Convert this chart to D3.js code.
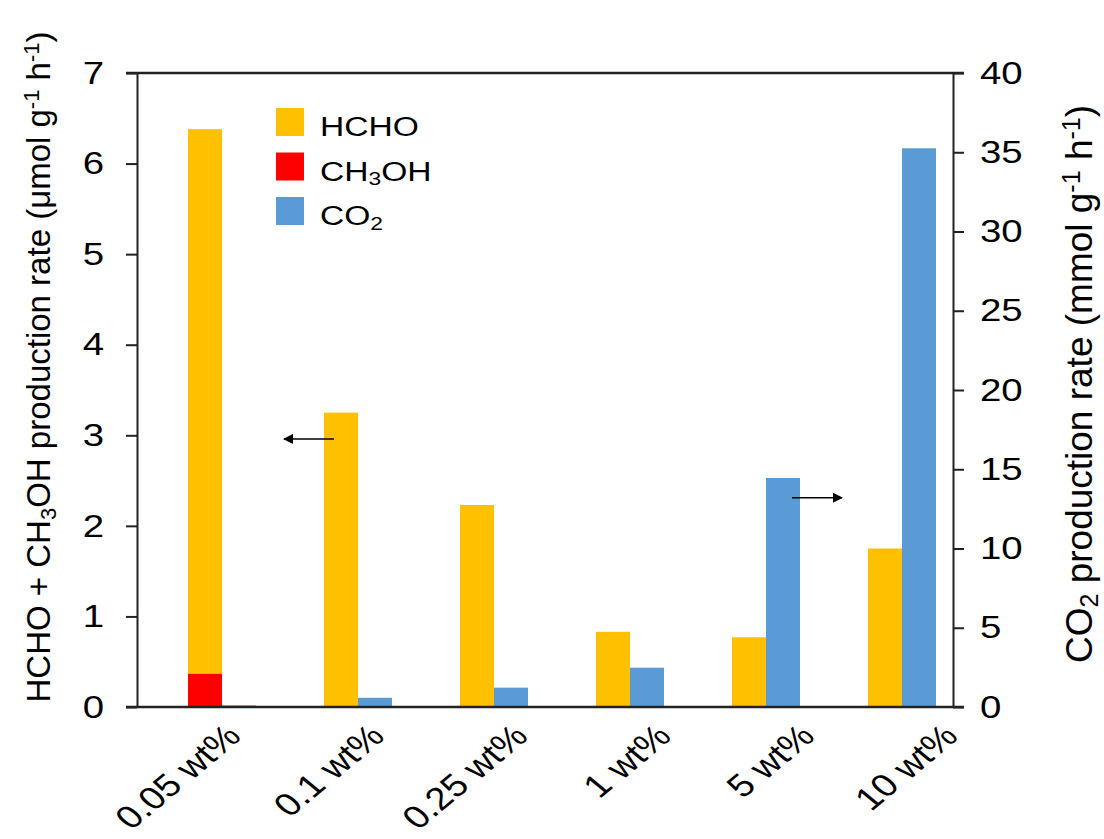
<!DOCTYPE html>
<html>
<head>
<meta charset="utf-8">
<script src="https://cdn.jsdelivr.net/npm/d3@7"></script>
<style>
  body { margin: 0; background: #fff; }
  text { font-family: "Liberation Sans", Arial, sans-serif; fill: #000; }
</style>
</head>
<body>
<svg id="chart"></svg>
<script>
const categories = ['0.05 wt%', '0.1 wt%', '0.25 wt%', '1 wt%', '5 wt%', '10 wt%'];
const hcho = [6.01, 3.25, 2.23, 0.83, 0.77, 1.75];
const ch3oh = [0.37, 0, 0, 0, 0, 0];
const co2 = [0.1, 0.58, 1.22, 2.48, 14.45, 35.25];
const leftTicks = [0, 1, 2, 3, 4, 5, 6, 7];
const rightTicks = [0, 5, 10, 15, 20, 25, 30, 35, 40];
const seriesNames = ['HCHO', 'CH3OH', 'CO2'];
const colors = { hcho: '#FFC000', ch3oh: '#FF0000', co2: '#5B9BD5' };

const width = 1104, height = 839;
const margin = { top: 73, right: 151, bottom: 132, left: 137 };
const tickLen = 11;
const axisColor = '#222';
const stretch = 1.2;   // the source figure is a bit wider than tall

const svg = d3.select('#chart')
    .attr('width', width)
    .attr('height', height);

const x0 = d3.scaleBand()
    .domain(categories)
    .range([margin.left, width - margin.right])
    .padding(0);

// one empty slot, then the stacked column, then CO2
const xs = d3.scaleBand()
    .domain(['blank', 'primary', 'co2'])
    .range([0, x0.bandwidth()])
    .paddingInner(0)
    .paddingOuter(0.5);

const yL = d3.scaleLinear()
    .domain([0, 7])
    .range([height - margin.bottom, margin.top]);

const yR = d3.scaleLinear()
    .domain([0, 40])
    .range([height - margin.bottom, margin.top]);

const rows = categories.map((c, i) => ({ cat: c, hcho: hcho[i], ch3oh: ch3oh[i], co2: co2[i] }));
const stacked = d3.stack().keys(['ch3oh', 'hcho'])(rows);

// stacked columns (left axis)
svg.append('g').selectAll('g')
    .data(stacked)
    .join('g')
    .attr('fill', d => colors[d.key])
    .selectAll('rect')
    .data(d => d.filter(p => p[1] - p[0] > 0))
    .join('rect')
    .attr('x', d => x0(d.data.cat) + xs('primary'))
    .attr('width', xs.bandwidth())
    .attr('y', d => yL(d[1]))
    .attr('height', d => yL(d[0]) - yL(d[1]));

// CO2 columns (right axis)
svg.append('g').selectAll('rect')
    .data(rows)
    .join('rect')
    .attr('fill', colors.co2)
    .attr('x', d => x0(d.cat) + xs('co2'))
    .attr('width', xs.bandwidth())
    .attr('y', d => yR(d.co2))
    .attr('height', d => yR(0) - yR(d.co2));

// axes
const x1 = margin.left, x2 = width - margin.right;
const leftAxis = d3.axisLeft(yL).tickValues(leftTicks).tickFormat(d3.format('d'))
    .tickSize(tickLen).tickSizeOuter(0).tickPadding(22);
const rightAxis = d3.axisRight(yR).tickValues(rightTicks).tickFormat(d3.format('d'))
    .tickSize(tickLen).tickSizeOuter(0).tickPadding(16);

const gl = svg.append('g').attr('transform', `translate(${x1},0)`).call(leftAxis);
const gr = svg.append('g').attr('transform', `translate(${x2},0)`).call(rightAxis);
[gl, gr].forEach(g => {
    g.selectAll('path, line').attr('stroke', axisColor).attr('stroke-width', 2);
    g.selectAll('text')
        .style('font-size', '32px')
        .attr('font-family', '"Liberation Sans", Arial, sans-serif')
        .attr('fill', '#000')
        .each(function () {
            const t = d3.select(this);
            const x = +t.attr('x');
            t.attr('x', 0).attr('transform', `translate(${x},0) scale(${stretch},1)`);
        });
});

// top and bottom frame lines
svg.append('line')
    .attr('x1', x1 - tickLen).attr('x2', x2 + tickLen)
    .attr('y1', yL(7)).attr('y2', yL(7))
    .attr('stroke', axisColor).attr('stroke-width', 2.5);
svg.append('line')
    .attr('x1', x1 - tickLen).attr('x2', x2 + tickLen)
    .attr('y1', yL(0)).attr('y2', yL(0))
    .attr('stroke', axisColor).attr('stroke-width', 2.5);

// category labels, their ends spread a little wider than the bars
const xLabel = d3.scalePoint()
    .domain(categories)
    .range([x0(categories[0]) + x0.bandwidth() / 2 + 38,
            x0(categories[categories.length - 1]) + x0.bandwidth() / 2 + 75]);
svg.append('g').selectAll('text')
    .data(categories)
    .join('text')
    .attr('text-anchor', 'end')
    .style('font-size', '32px')
    .attr('transform', d => `translate(${xLabel(d)},${yL(0) + 31}) scale(${stretch},1) rotate(-45)`)
    .text(d => d);

// axis titles
const leftTitle = svg.append('text')
    .attr('transform', `translate(50,367) rotate(-90)`)
    .attr('text-anchor', 'middle')
    .style('font-size', '33px');
leftTitle.append('tspan').text('HCHO + CH');
leftTitle.append('tspan').text('3').attr('baseline-shift', '-25%').style('font-size', '22px');
leftTitle.append('tspan').text('OH production rate (μmol g');
leftTitle.append('tspan').text('-1').attr('baseline-shift', '50%').style('font-size', '22px');
leftTitle.append('tspan').text(' h');
leftTitle.append('tspan').text('-1').attr('baseline-shift', '50%').style('font-size', '22px');
leftTitle.append('tspan').text(')');

const rightTitle = svg.append('text')
    .attr('transform', `translate(1092,384) rotate(-90)`)
    .attr('text-anchor', 'middle')
    .style('font-size', '37px');
rightTitle.append('tspan').text('CO');
rightTitle.append('tspan').text('2').attr('baseline-shift', '-25%').style('font-size', '25px');
rightTitle.append('tspan').text(' production rate (mmol g');
rightTitle.append('tspan').text('-1').attr('baseline-shift', '50%').style('font-size', '25px');
rightTitle.append('tspan').text(' h');
rightTitle.append('tspan').text('-1').attr('baseline-shift', '50%').style('font-size', '25px');
rightTitle.append('tspan').text(')');

// legend
const legend = svg.append('g').attr('transform', 'translate(276,108)');
const legendColors = [colors.hcho, colors.ch3oh, colors.co2];
const li = legend.selectAll('g')
    .data(seriesNames)
    .join('g')
    .attr('transform', (d, i) => `translate(0,${i * 44.5})`);
li.append('rect')
    .attr('width', 28).attr('height', 28)
    .attr('fill', (d, i) => legendColors[i]);
li.each(function (d) {
    const t = d3.select(this).append('text')
        .attr('transform', `translate(44,28) scale(${stretch},1)`)
        .style('font-size', '28px');
    const m = d.match(/^([A-Z]+)(\d)?(.*)$/);
    t.append('tspan').text(m[1]);
    if (m[2]) t.append('tspan').text(m[2]).attr('baseline-shift', '-25%').style('font-size', '19px');
    if (m[3]) t.append('tspan').text(m[3]);
});

// arrows pointing at each axis
svg.append('defs').append('marker')
    .attr('id', 'head')
    .attr('viewBox', '0 0 10 10')
    .attr('refX', 9).attr('refY', 5)
    .attr('markerWidth', 13).attr('markerHeight', 10)
    .attr('markerUnits', 'userSpaceOnUse')
    .attr('orient', 'auto')
    .append('path')
    .attr('d', 'M0,0 L10,5 L0,10 Z')
    .attr('fill', '#000');

const arrows = [
    { cat: '0.1 wt%', slot: 'primary', inset: 10, y: yL(2.96), len: -50 },
    { cat: '5 wt%', slot: 'co2', inset: 26, y: yR(13.2), len: 50 }
];
svg.append('g').selectAll('line')
    .data(arrows)
    .join('line')
    .attr('x1', d => x0(d.cat) + xs(d.slot) + d.inset)
    .attr('x2', d => x0(d.cat) + xs(d.slot) + d.inset + d.len)
    .attr('y1', d => d.y).attr('y2', d => d.y)
    .attr('stroke', '#000').attr('stroke-width', 1.5)
    .attr('marker-end', 'url(#head)');
</script>
</body>
</html>
